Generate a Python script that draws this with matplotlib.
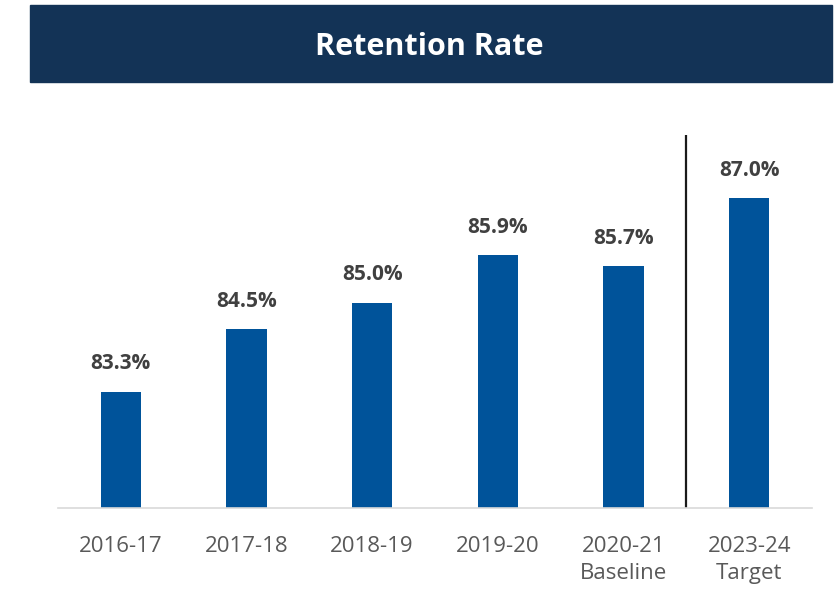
import matplotlib.pyplot as plt
from matplotlib.patches import Rectangle

years = ['2016-17', '2017-18', '2018-19', '2019-20', '2020-21\nBaseline', '2023-24\nTarget']
retention = [83.3, 84.5, 85.0, 85.9, 85.7, 87.0]

plt.rcParams['font.family'] = ['Open Sans', 'DejaVu Sans']

fig = plt.figure(figsize=(8.4, 5.89), dpi=100)

# title banner
fig.patches.append(Rectangle((30 / 840, 1 - 82 / 589), 802 / 840, 77 / 589,
                             transform=fig.transFigure, color='#133356', zorder=0))
fig.text(429 / 840, 1 - 47 / 589, 'Retention Rate', color='white', fontsize=22,
         fontweight='bold', ha='center', va='center')

ax = fig.add_axes([58 / 840, 1 - 508 / 589, 754 / 840, 373 / 589])
x = range(len(years))
bars = ax.bar(x, retention, width=0.32, color='#00539a')
for b, v in zip(bars, retention):
    ax.text(b.get_x() + b.get_width() / 2, v + 0.33, f'{v:.1f}%', ha='center', va='bottom',
            fontsize=15, fontweight='bold', color='#404040')

ax.axvline(4.5, color='#1a1a1a', lw=1.6)
ax.set_xlim(-0.5, 5.5)
ax.set_ylim(81.08, 88.2)
ax.set_xticks(list(x))
ax.set_xticklabels(years, fontsize=16, color='#595959', linespacing=1.4)
ax.tick_params(axis='x', length=0, pad=20)
ax.set_yticks([])
for s in ['top', 'left', 'right']:
    ax.spines[s].set_visible(False)
ax.spines['bottom'].set_color('#d9d9d9')
ax.spines['bottom'].set_linewidth(1.2)

fig.savefig('out.png', dpi=100)
